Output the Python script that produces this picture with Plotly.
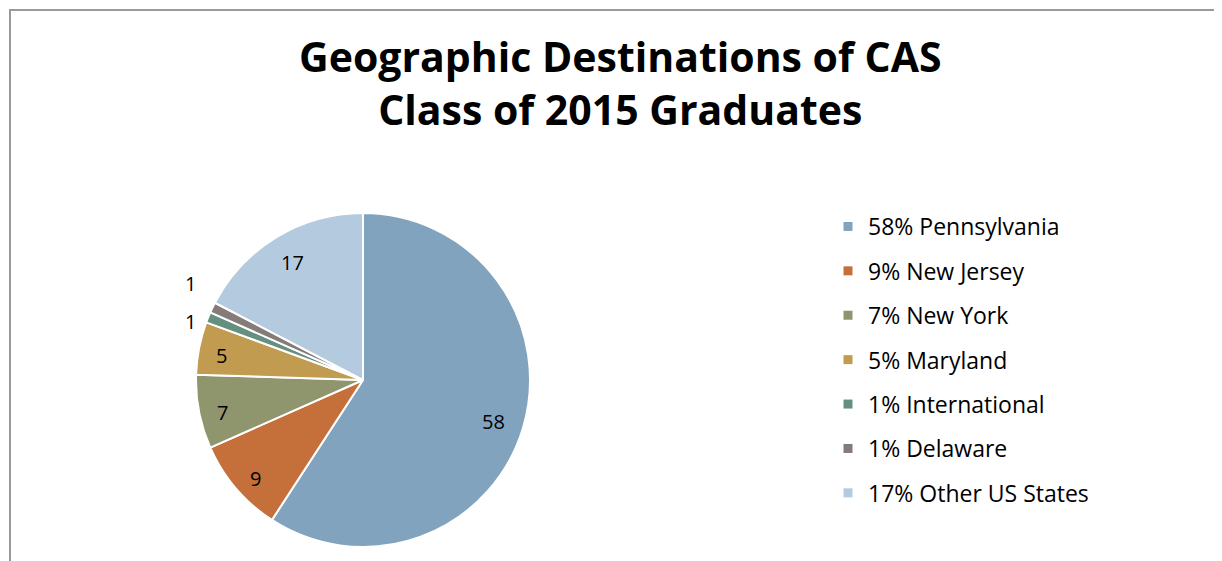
import numpy as np
import plotly.graph_objects as go

# dados do gráfico
destinos = ['Pennsylvania', 'New Jersey', 'New York', 'Maryland',
            'International', 'Delaware', 'Other US States']
valores = [58, 9, 7, 5, 1, 1, 17]
legendas = ['58% Pennsylvania', '9% New Jersey', '7% New York', '5% Maryland',
            '1% International', '1% Delaware', '17% Other US States']
cores = ['#82A3BE', '#C5703A', '#8F956C', '#C19B50', '#65907F', '#857B79', '#B4CADE']

fonte = '"Open Sans", "Century Gothic", sans-serif'
W, H = 1222, 561
OFF = 8  # margem do body da página


def px(x):
    return (x - OFF) / W


def py(y):
    return 1 - (y - OFF) / H


# centro e raio da pizza em pixels da tela
cx, cy, raio = 363, 380, 167

fig = go.Figure()
fig.add_trace(go.Pie(labels=destinos,
                     values=valores,
                     sort=False,
                     direction='clockwise',
                     rotation=0,
                     marker=dict(colors=cores, line=dict(color='white', width=2)),
                     textinfo='none',
                     showlegend=False,
                     domain=dict(x=[px(cx - raio), px(cx + raio)],
                                 y=[py(cy + raio), py(cy - raio)]),
                     ))

# rótulos dos valores, posicionados no ângulo médio de cada fatia
total = sum(valores)
acumulado = np.cumsum([0] + valores[:-1])
angulos = [(a + v / 2) / total * 2 * np.pi for v, a in zip(valores, acumulado)]
anotacoes = []


def rotulo(x, y, texto):
    return dict(x=px(x), y=py(y), xref='paper', yref='paper',
                xanchor='center', yanchor='middle',
                text=texto, showarrow=False,
                font=dict(family=fonte, size=20, color='black'))


# fatias maiores: rótulo dentro
for v, ang in zip(valores, angulos):
    if v <= 1:
        continue
    f = 0.92 - 0.16 * np.sqrt(v / total)
    anotacoes.append(rotulo(cx + f * raio * np.sin(ang) + 3,
                            cy - f * raio * np.cos(ang) + 4, str(v)))

# fatias de 1: rótulo fora, afastados na vertical
r = raio + 24
pequenos = [(v, ang) for v, ang in zip(valores, angulos) if v <= 1]
ang_medio = np.mean([ang for _, ang in pequenos])
lx = cx + r * np.sin(ang_medio) + 2
ly_medio = np.mean([cy - r * np.cos(ang) for _, ang in pequenos])
passo = 38
for i, (v, ang) in enumerate(pequenos):
    ly = ly_medio + passo * ((len(pequenos) - 1) / 2 - i)
    anotacoes.append(rotulo(lx, ly, str(v)))

anotacoes.append(dict(x=px(620), y=py(83), xref='paper', yref='paper',
                      xanchor='center', yanchor='middle',
                      text='<b>Geographic Destinations of CAS<br>Class of 2015 Graduates</b>',
                      showarrow=False,
                      font=dict(family=fonte, size=41, color='black')))

# legenda feita com traços vazios para controlar o espaçamento
for nome, cor in zip(legendas, cores):
    fig.add_trace(go.Scatter(x=[None], y=[None],
                             name=nome,
                             legendgroup=nome,
                             mode='markers',
                             marker=dict(symbol='square', size=9, color=cor),
                             ))

fig.update_layout(
    width=W, height=H,
    margin=dict(l=0, r=0, t=0, b=0),
    paper_bgcolor='white',
    plot_bgcolor='white',
    font=dict(family=fonte),
    xaxis=dict(visible=False),
    yaxis=dict(visible=False),
    annotations=anotacoes,
    legend=dict(x=px(828), xanchor='left', y=py(205), yanchor='top',
                font=dict(size=23, color='black', family=fonte),
                tracegroupgap=11.5, itemwidth=30),
    shapes=[dict(type='rect', xref='paper', yref='paper',
                 x0=px(10), x1=1.02, y0=-0.02, y1=py(10),
                 line=dict(color='#9A9A9A', width=2))],
)

fig.write_html("out.html")
